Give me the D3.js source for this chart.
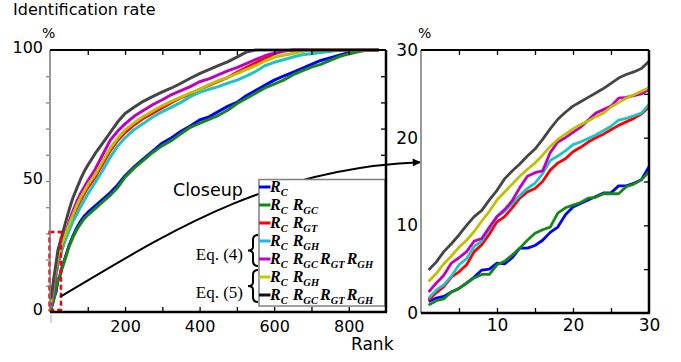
<!DOCTYPE html>
<html>
<head>
<meta charset="utf-8">
<script src="https://cdn.jsdelivr.net/npm/d3@7"></script>
<style>
body { margin: 0; background: #fff; }
svg { display: block; }
</style>
</head>
<body>
<svg id="chart" width="681" height="362"></svg>
<script>
// rank values
var ranks = [1,5,10,15,20,25,30,40,50,60,70,80,90,100,120,140,160,180,200,225,250,275,300,325,350,375,400,425,450,475,500,525,550,575,600,625,650,675,700,725,750,775,800,825,850,880];

var rate_rc = [1.3,2.8,5.7,7.7,12.1,13.7,16.7,21,25.5,29,32,34.5,36.5,38,40.5,43,45.5,48.5,52,55.5,58.5,61.5,64.5,66.5,69,71,73.3,74.5,76.5,78.5,80,82.5,84.5,86.5,88.5,90,91.5,93,94.5,96,97,98,99,100,100,100];
var rate_rc_gc = [0.9,2.8,5.5,9.1,12.3,13.6,16.1,20.5,25,28.5,31.3,33.5,35.5,37,39.5,42,44.5,47.5,51.5,55,58,61,63.5,65.5,68,70.5,72,73.5,75,77,79.5,81.5,83.5,85.5,87,88.5,90.5,92,93.5,94.5,96,97.5,98.5,99.3,100,100];
var rate_rc_gt = [1.5,4.7,10.4,14.2,18.4,20.9,23.5,28,32,36,39.5,42.5,45,47.5,51.5,56.5,61.5,65.5,68.5,71.5,74,76,78,80,81.8,83.3,85,86.5,88,89.5,91.5,93.3,95,96.8,98.5,99.6,100,100,100,100,100,100,100,100,100,100];
var rate_rc_gh = [1.7,5.5,11.0,14.8,19.2,21.3,23.8,27.5,31,34.5,37,40,42.5,45,49.5,54,59,63.3,66.5,69.7,72,74.5,76.5,78.2,80,82.2,83.8,85,86,87.3,88.5,90,91.8,94,95.3,96.3,97.3,98.2,98.6,99,99.4,100,100,100,100,100];
var rate_all4 = [2.4,6.3,11.0,16.0,20.6,23.6,25.5,30,34.5,38.5,42,45,47.5,50,54.5,60,65.5,69,71.8,74.8,77,79.2,81,83,84.5,86,87.9,89,90.5,92,93.3,94.8,96.3,97.8,98.8,99.6,100,100,100,100,100,100,100,100,100,100];
var rate_rc_gh5 = [3.6,7.5,12.9,17.1,21.0,23.5,25.7,29.5,33.5,37,40.5,43.5,46,48.5,52.5,57.5,62.5,66.3,69.5,72.3,74.7,76.8,78.8,80.5,82,83.6,85,86.8,88.3,89.5,91,92.5,94,95.8,97.2,98,98.7,99.4,100,100,100,100,100,100,100,100];
var rate_all5 = [4.9,8.9,14.0,18.7,23.6,26.2,28.7,34,39,43.5,47,50.5,53.5,56,60.5,64.5,68.5,72.5,75.8,78.2,80.5,82.3,84,85.5,87.3,89.2,91,92.5,94,95.5,97.3,99.2,100,100,100,100,100,100,100,100,100,100,100,100,100,100];

// closeup, ranks 1..30
var close_ranks = [1,2,3,4,5,6,7,8,9,10,11,12,13,14,15,16,17,18,19,20,21,22,23,24,25,26,27,28,29,30];
var close_rc = [1.3,1.7,1.9,2.4,2.8,3.4,4.1,4.9,5.0,5.7,5.6,6.3,7.4,7.4,7.7,8.3,9.2,9.8,11.2,12.1,12.5,12.9,13.3,13.7,13.7,14.5,14.5,14.8,15.2,16.7];
var close_rc_gc = [0.9,1.4,1.6,2.4,2.8,3.4,4.0,4.4,4.4,5.5,5.9,6.6,7.4,8.3,9.1,9.5,9.8,11.4,12.0,12.3,12.6,13.1,13.2,13.6,13.6,13.6,14.4,14.7,15.2,16.1];
var close_rc_gt = [1.5,2.3,3.0,4.1,4.7,5.5,7.0,7.8,9.0,10.4,11.0,12.0,13.1,13.8,14.2,15.0,16.3,17.1,17.6,18.4,18.9,19.5,20.0,20.4,20.9,21.4,21.8,22.2,22.7,23.5];
var close_rc_gh = [1.7,2.6,3.2,4.2,5.5,6.2,7.6,8.2,9.6,11.0,11.6,12.5,13.4,14.2,14.8,15.9,17.4,17.9,18.5,19.2,19.5,19.9,20.3,20.8,21.3,22.0,22.2,22.5,22.8,23.8];
var close_all4 = [2.4,3.4,4.3,5.7,6.3,7.0,8.2,8.5,9.8,11.0,11.8,12.8,14.3,15.6,16.0,16.2,18.3,19.5,20.0,20.6,21.2,22.0,22.8,23.2,23.6,24.5,24.6,24.8,25.0,25.5];
var close_rc_gh5 = [3.6,4.5,5.6,6.5,7.5,8.3,9.3,10.5,11.6,12.9,13.8,14.7,15.6,16.4,17.1,18.0,19.0,19.8,20.4,21.0,21.5,21.9,22.4,22.8,23.5,24.0,24.5,24.9,25.3,25.7];
var close_all5 = [4.9,5.8,7.0,7.9,8.9,10.0,11.0,11.7,12.9,14.0,15.3,16.2,17.0,17.9,18.7,19.8,21.0,22.1,22.9,23.6,24.1,24.6,25.1,25.6,26.2,26.8,27.2,27.5,27.9,28.7];

var line_colors = ["#0000ff", "#138a13", "#ff0000", "#1cc4c4", "#c000c0", "#c0c000", "#454545"];
var legend_colors = ["#0000ff", "#138a13", "#ff0000", "#22b4ee", "#cc00cc", "#c8c800", "#111111"];
var legend_terms = [["C"], ["C","GC"], ["C","GT"], ["C","GH"], ["C","GC","GT","GH"], ["C","GH"], ["C","GC","GT","GH"]];

var main_y_labels = [0, 50, 100];
var main_x_labels = [200, 400, 600, 800];
var close_y_labels = [0, 10, 20, 30];
var close_x_labels = [10, 20, 30];

var main_series = [rate_rc, rate_rc_gc, rate_rc_gt, rate_rc_gh, rate_all4, rate_rc_gh5, rate_all5];
var close_series = [close_rc, close_rc_gc, close_rc_gt, close_rc_gh, close_all4, close_rc_gh5, close_all5];

var svg = d3.select("#chart");
var sans = "DejaVu Sans, sans-serif";
var serif = "Liberation Serif, Times New Roman, serif";

var x_main = d3.scaleLinear().domain([0, 900]).range([50.5, 386]);
var y_main = d3.scaleLinear().domain([0, 100]).range([312, 50]);
var x_close = d3.scaleLinear().domain([0, 30]).range([421, 649]);
var y_close = d3.scaleLinear().domain([0, 30]).range([313, 50]);

function tick_axis(g, axis, color) {
	g.call(axis);
	g.select(".domain").remove();
	g.selectAll(".tick line").attr("stroke", color || "#000").attr("stroke-width", 1.3);
	g.selectAll(".tick text").attr("font-family", sans).attr("font-size", 16).attr("fill", "#000");
	return g;
}

// main curves
var main_line = d3.line()
	.x(function(d, i) { return x_main(ranks[i]); })
	.y(function(d) { return y_main(d); });

svg.append("g").selectAll("path").data(main_series).enter().append("path")
	.attr("d", main_line)
	.attr("fill", "none")
	.attr("stroke", function(d, i) { return line_colors[i]; })
	.attr("stroke-width", 3)
	.attr("stroke-linejoin", "round");

// closeup curves
var close_line = d3.line()
	.x(function(d, i) { return x_close(close_ranks[i]); })
	.y(function(d) { return y_close(d); });

svg.append("g").selectAll("path").data(close_series).enter().append("path")
	.attr("d", close_line)
	.attr("fill", "none")
	.attr("stroke", function(d, i) { return line_colors[i]; })
	.attr("stroke-width", 2.8)
	.attr("stroke-linejoin", "round");

// ticks of main plot
tick_axis(svg.append("g").attr("transform", "translate(0,312)"),
	d3.axisBottom(x_main).tickValues(d3.range(100, 900, 100)).tickSize(-5).tickFormat(""));
tick_axis(svg.append("g").attr("transform", "translate(0,50)"),
	d3.axisTop(x_main).tickValues(d3.range(100, 900, 100)).tickSize(-5).tickFormat(""));
tick_axis(svg.append("g").attr("transform", "translate(386,0)"),
	d3.axisRight(y_main).tickValues(d3.range(10, 100, 10)).tickSize(-5).tickFormat(""));
tick_axis(svg.append("g").attr("transform", "translate(49,0)"),
	d3.axisLeft(y_main).tickValues(d3.range(10, 100, 10)).tickSize(3).tickFormat(""), "#888");
tick_axis(svg.append("g").attr("transform", "translate(0,315)"),
	d3.axisBottom(x_main).tickValues([0]).tickSize(8).tickFormat(""), "#bbb");

var yl = tick_axis(svg.append("g").attr("transform", "translate(50,0)"),
	d3.axisLeft(y_main).tickValues(main_y_labels).tickSize(0).tickPadding(7));
yl.selectAll(".tick text").attr("dy", "0.15em");
tick_axis(svg.append("g").attr("transform", "translate(0,312)"),
	d3.axisBottom(x_main).tickValues(main_x_labels).tickSize(0).tickPadding(9));

// ticks of closeup
tick_axis(svg.append("g").attr("transform", "translate(0,313)"),
	d3.axisBottom(x_close).tickValues([5, 10, 15, 20, 25]).tickSize(-5).tickFormat(""));
tick_axis(svg.append("g").attr("transform", "translate(0,50)"),
	d3.axisTop(x_close).tickValues([5, 10, 15, 20, 25]).tickSize(-5).tickFormat(""));
tick_axis(svg.append("g").attr("transform", "translate(649,0)"),
	d3.axisRight(y_close).tickValues([5, 10, 15, 20, 25]).tickSize(-5).tickFormat(""));

var cl = tick_axis(svg.append("g").attr("transform", "translate(421,0)"),
	d3.axisLeft(y_close).tickValues(close_y_labels).tickSize(0).tickPadding(3));
cl.selectAll(".tick text").attr("font-size", 17);
var cb = tick_axis(svg.append("g").attr("transform", "translate(0,313)"),
	d3.axisBottom(x_close).tickValues(close_x_labels).tickSize(0).tickPadding(6));
cb.selectAll(".tick text").attr("font-size", 17);

// closeup box and arrow (arrow runs behind the legend)
svg.append("rect")
	.attr("x", x_main(0) - 1).attr("y", y_main(30.5))
	.attr("width", x_main(28) - x_main(0) + 1).attr("height", y_main(0.8) - y_main(30.5))
	.attr("fill", "none").attr("stroke", "#ff0000").attr("stroke-width", 2.5)
	.attr("stroke-dasharray", "5,3");

svg.append("defs").append("marker")
	.attr("id", "head").attr("viewBox", "0 0 10 10").attr("refX", 9).attr("refY", 5)
	.attr("markerWidth", 10).attr("markerHeight", 8).attr("markerUnits", "userSpaceOnUse")
	.attr("orient", "auto")
	.append("path").attr("d", "M0,0 L10,5 L0,10 Z").attr("fill", "#000");

var p0 = [x_main(26), y_main(5.8)];
var p1 = [x_close(0) - 1, y_close(17.2)];
svg.append("path")
	.attr("d", "M" + p0[0] + "," + p0[1] + " C160,238 265,168 " + p1[0] + "," + p1[1])
	.attr("fill", "none").attr("stroke", "#000").attr("stroke-width", 2)
	.attr("marker-end", "url(#head)");

// frames
function frame(x0, x1, y0, y1) {
	var f = svg.append("g").attr("fill", "none");
	f.append("line").attr("x1", x0).attr("x2", x0).attr("y1", y0).attr("y2", y1).attr("stroke", "#777").attr("stroke-width", 1.5);
	f.append("line").attr("x1", x0).attr("x2", x1).attr("y1", y0).attr("y2", y0).attr("stroke", "#000").attr("stroke-width", 2.2);
	f.append("line").attr("x1", x1).attr("x2", x1).attr("y1", y0).attr("y2", y1).attr("stroke", "#000").attr("stroke-width", 2.5);
	f.append("line").attr("x1", x0).attr("x2", x1 + 1).attr("y1", y1).attr("y2", y1).attr("stroke", "#000").attr("stroke-width", 2.5);
}

// legend box
var legend = svg.append("g");
legend.append("rect")
	.attr("x", 259).attr("y", 179.5).attr("width", 126).attr("height", 126.5)
	.attr("fill", "#fff").attr("stroke", "#808080").attr("stroke-width", 1.5);

var rows = legend.selectAll("g.row").data(legend_terms).enter().append("g")
	.attr("class", "row")
	.attr("transform", function(d, i) { return "translate(0," + (187 + i * 18) + ")"; });

rows.append("line")
	.attr("x1", 259).attr("x2", 270.5).attr("y1", 0).attr("y2", 0)
	.attr("stroke", function(d, i) { return legend_colors[i]; })
	.attr("stroke-width", 3);

rows.each(function(terms) {
	var t = d3.select(this).append("text")
		.attr("x", 270).attr("y", 5)
		.attr("font-family", serif).attr("font-weight", "bold").attr("font-style", "italic")
		.attr("font-size", 16);
	terms.forEach(function(sub, k) {
		t.append("tspan").attr("dx", k == 0 ? 0 : (k == 1 ? 5 : 2)).attr("dy", k == 0 ? 0 : -4).text("R");
		t.append("tspan").attr("font-size", 10.5).attr("dy", 4).text(sub);
	});
});

frame(x_main(0) - 0.5, x_main(900), y_main(100), y_main(0));
frame(x_close(0), x_close(30), y_close(30), y_close(0));

// braces and equation tags
function brace(xr, y0, y1) {
	var xm = xr - 5, xl = xr - 10, ym = (y0 + y1) / 2, h = y1 - y0;
	return "M" + xr + "," + y0 + " Q" + xm + "," + y0 + " " + xm + "," + (y0 + h * 0.15) +
		" L" + xm + "," + (ym - h * 0.12) + " Q" + xm + "," + ym + " " + xl + "," + ym +
		" Q" + xm + "," + ym + " " + xm + "," + (ym + h * 0.12) +
		" L" + xm + "," + (y1 - h * 0.15) + " Q" + xm + "," + y1 + " " + xr + "," + y1;
}
svg.append("path").attr("d", brace(258, 235, 266)).attr("fill", "none").attr("stroke", "#000").attr("stroke-width", 2);
svg.append("path").attr("d", brace(258, 270, 302)).attr("fill", "none").attr("stroke", "#000").attr("stroke-width", 2);

svg.append("text").attr("x", 243).attr("y", 260).attr("text-anchor", "end")
	.attr("font-family", serif).attr("font-size", 17).text("Eq. (4)");
svg.append("text").attr("x", 243).attr("y", 298).attr("text-anchor", "end")
	.attr("font-family", serif).attr("font-size", 17).text("Eq. (5)");

// titles
svg.append("text").attr("x", 13).attr("y", 15)
	.attr("font-family", sans).attr("font-size", 16).text("Identification rate");
svg.append("text").attr("x", 42).attr("y", 38)
	.attr("font-family", sans).attr("font-size", 14).text("%");
svg.append("text").attr("x", 418).attr("y", 38)
	.attr("font-family", sans).attr("font-size", 14).text("%");
svg.append("text").attr("x", 173).attr("y", 196)
	.attr("font-family", sans).attr("font-size", 17.5).text("Closeup");
svg.append("text").attr("x", 351).attr("y", 350)
	.attr("font-family", sans).attr("font-size", 17).text("Rank");
</script>
</body>
</html>
